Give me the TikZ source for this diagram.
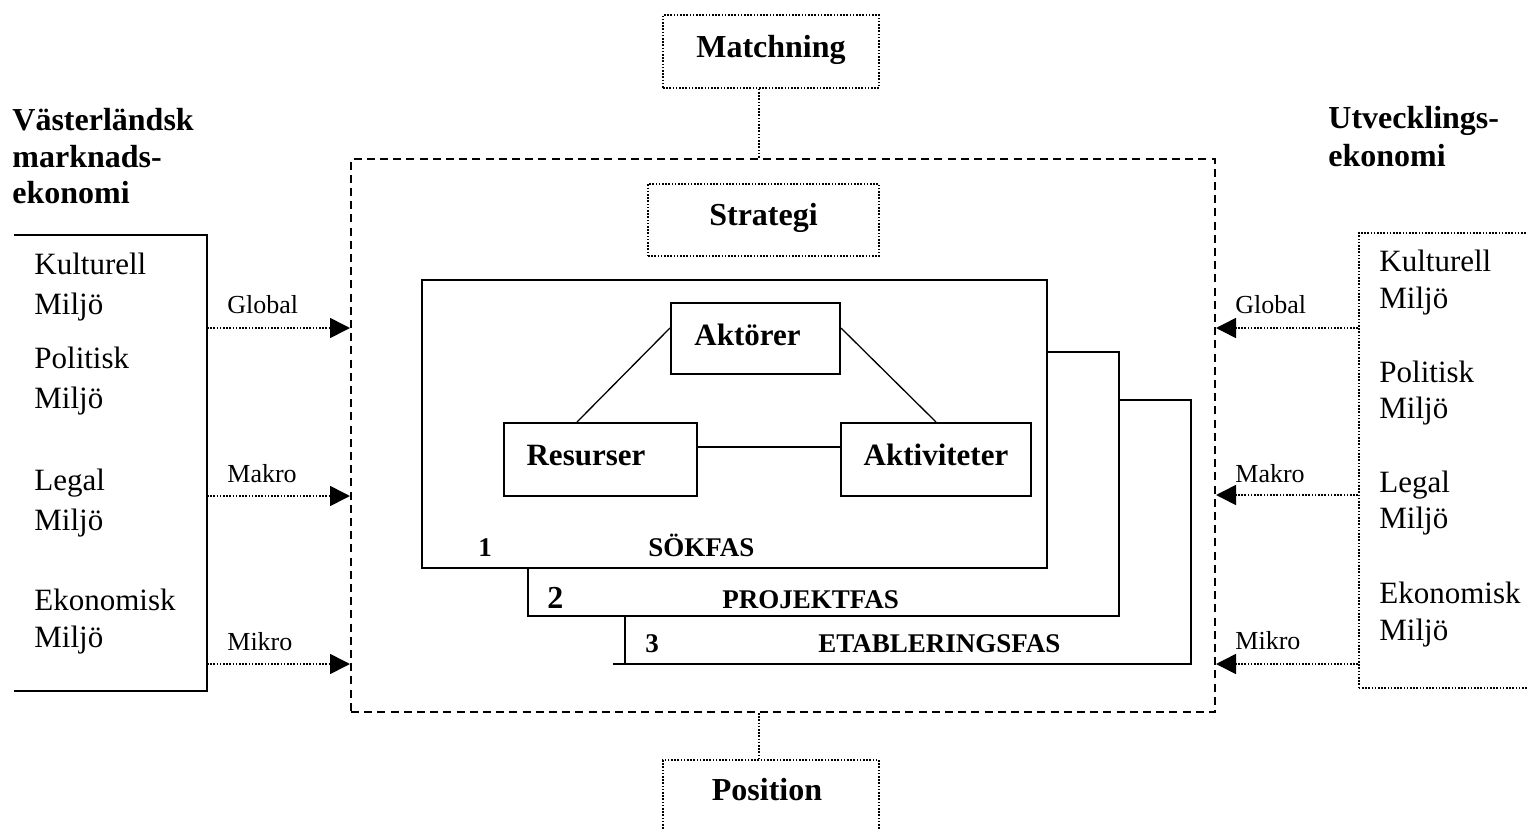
\documentclass[tikz,border=0pt]{standalone}
\usepackage{fontspec}
\setmainfont{Liberation Serif}
\usetikzlibrary{arrows.meta}

\begin{document}
\begin{tikzpicture}[x=0.5pt,y=-0.5pt,
  dotline/.style={line width=0.8pt, dash pattern=on 0.8pt off 0.8pt},
  dashline/.style={line width=1pt, dash pattern=on 4pt off 2.6pt},
  solidline/.style={line width=1pt},
  thinline/.style={line width=0.65pt},
  dotbox/.style={draw, dotline, inner sep=0pt, text depth=2pt},
  solidbox/.style={draw, solidline, inner sep=0pt, text depth=2pt},
  boxfont/.style={font=\fontsize{16pt}{19pt}\selectfont\bfseries},
  hdr/.style={font=\fontsize{16pt}{19pt}\selectfont\bfseries, inner sep=0pt, anchor=base west},
  env/.style={font=\fontsize{15.5pt}{18pt}\selectfont, inner sep=0pt, anchor=base west},
  lvl/.style={font=\fontsize{13pt}{15pt}\selectfont, inner sep=0pt, anchor=base west},
  phase/.style={font=\fontsize{13.5pt}{16pt}\selectfont\bfseries, inner sep=0pt, anchor=base west},
  flow/.style={dotline, -{Triangle[length=10pt,width=10pt]}},
]
\useasboundingbox (0,0) rectangle (1527,830);

% headings of the two economies
\node[hdr] (wt1) at (12,130) {Västerländsk};
\node[hdr] (wt2) at (12,167) {marknads-};
\node[hdr] (wt3) at (12,203) {ekonomi};
\node[hdr] (ut1) at (1328,128) {Utvecklings-};
\node[hdr] (ut2) at (1328,166) {ekonomi};

% outer frame, strategy and its context boxes
\node[draw, dashline, minimum width=432pt, minimum height=276.5pt] (frame) at (783,435.5) {};
\node[dotbox, boxfont, minimum width=108pt, minimum height=36.5pt, text height=7.5pt] (match) at (771,51.5) {Matchning};
\node[dotbox, boxfont, minimum width=115.5pt, minimum height=36pt, text height=7pt] (strat) at (763.5,220) {Strategi};
\node[dotbox, boxfont, minimum width=108pt, minimum height=40pt, text height=2pt] (pos) at (771,800) {Position\hspace*{4pt}};
\draw[dotline] (match.south -| 759,0) -- (frame.north -| 759,0);
\draw[dotline] (frame.south -| 759,0) -- (pos.north -| 759,0);

% network model: actors, resources, activities
\node[solidbox, boxfont, font=\fontsize{15.5pt}{18pt}\selectfont\bfseries, minimum width=84.5pt, minimum height=35.5pt, text height=8.5pt] (akt) at (755.5,338.5) {Aktörer\hspace*{8pt}};
\node[solidbox, font=\fontsize{15.5pt}{18pt}\selectfont\bfseries, minimum width=96.5pt, minimum height=36.5pt, text height=7.5pt] (res) at (600.5,459.5) {Resurser\hspace*{14.5pt}};
\node[solidbox, font=\fontsize{15.5pt}{18pt}\selectfont\bfseries, minimum width=95pt, minimum height=36.5pt, text height=7.5pt] (act) at (936,459.5) {Aktiviteter};
\draw[thinline] (akt.west |- 0,328) -- (577,0 |- res.north);
\draw[thinline] (akt.east |- 0,328) -- (936,0 |- act.north);
\draw[thinline] (res.east |- 0,447) -- (act.west |- 0,447);

% phases
\node[draw, solidline, minimum width=312.5pt, minimum height=144pt] (sok) at (734.5,424) {};
\coordinate (p1) at (1119,352);
\coordinate (p2) at (1119,616);
\coordinate (e1) at (1191,400);
\coordinate (e2) at (1191,664);
\draw[solidline] (sok.east |- p1) -- (p1) -- (p2) -- (528,616) -- (528,0 |- sok.south);
\draw[solidline] (p2 |- e1) -- (e1) -- (e2) -- (613,664);
\draw[solidline] (625,616) -- (625,664);
\node[phase] (n1) at (478,556) {1};
\node[phase] (l1) at (648,556) {SÖKFAS};
\node[phase, font=\fontsize{16pt}{18pt}\selectfont\bfseries] (n2) at (547,608) {2};
\node[phase] (l2) at (722,608) {PROJEKTFAS};
\node[phase] (n3) at (645,652) {3};
\node[phase] (l3) at (818,652) {ETABLERINGSFAS};

% western market economy environment
\coordinate (lt) at (14,235);
\coordinate (lb) at (14,691);
\draw[solidline] (lt) -- (207,235) -- (207,691) -- (lb);
\node[env] (lk1) at (34,274) {Kulturell};
\node[env] (lk2) at (34,314) {Miljö};
\node[env] (lp1) at (34,368) {Politisk};
\node[env] (lp2) at (34,408) {Miljö};
\node[env] (ll1) at (34,490) {Legal};
\node[env] (ll2) at (34,530) {Miljö};
\node[env] (le1) at (34,610) {Ekonomisk};
\node[env] (le2) at (34,647) {Miljö};
\coordinate (lg) at (207,328);
\coordinate (lm) at (207,496);
\coordinate (lmi) at (207,664);
\node[lvl] (lgl) at (227,313) {Global};
\node[lvl] (lma) at (227,482) {Makro};
\node[lvl] (lmk) at (227,650) {Mikro};
\draw[flow] (lg) -- (frame.west |- lg);
\draw[flow] (lm) -- (frame.west |- lm);
\draw[flow] (lmi) -- (frame.west |- lmi);

% developing economy environment
\node[dotbox, minimum width=100pt, minimum height=227.5pt, anchor=north west] (rbox) at (1358,232) {};
\node[env] (rk1) at (1379,271) {Kulturell};
\node[env] (rk2) at (1379,308) {Miljö};
\node[env] (rp1) at (1379,382) {Politisk};
\node[env] (rp2) at (1379,418) {Miljö};
\node[env] (rl1) at (1379,492) {Legal};
\node[env] (rl2) at (1379,528) {Miljö};
\node[env] (re1) at (1379,603) {Ekonomisk};
\node[env] (re2) at (1379,640) {Miljö};
\node[lvl] (rgl) at (1235,313) {Global};
\node[lvl] (rma) at (1235,482) {Makro};
\node[lvl] (rmk) at (1235,649) {Mikro};
\draw[flow] (rbox.west |- 0,328) -- (frame.east |- 0,328);
\draw[flow] (rbox.west |- 0,495) -- (frame.east |- 0,495);
\draw[flow] (rbox.west |- 0,664) -- (frame.east |- 0,664);

\end{tikzpicture}
\end{document}
